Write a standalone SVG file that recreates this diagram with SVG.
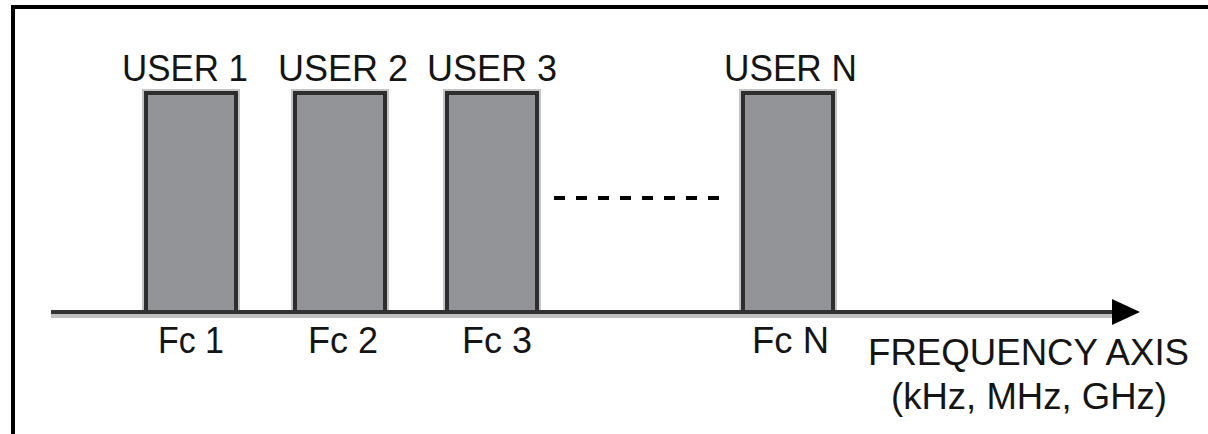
<svg xmlns="http://www.w3.org/2000/svg" width="1208" height="434" viewBox="0 0 1208 434">
  <style>
    .lbl { font-family: "Liberation Sans", Arial, sans-serif; font-size: 36px; fill: #151515; }
    .band { fill: #939498; stroke: #2e2e2e; stroke-width: 4; }
    .halo { fill: none; stroke: #c4c4c4; stroke-width: 8; }
  </style>
  <defs>
    <marker id="arrowHead" markerWidth="28" markerHeight="26" refX="0" refY="13" orient="auto" markerUnits="userSpaceOnUse">
      <polygon points="0,0 28,13 0,26" fill="#000"/>
    </marker>
  </defs>

  <rect width="1208" height="434" fill="#fff"/>

  <!-- frame (top and left edges) -->
  <g id="frame">
    <rect x="11" y="5" width="1197" height="4" fill="#000"/>
    <rect x="11" y="5" width="4" height="429" fill="#000"/>
  </g>

  <!-- channel bands -->
  <g id="user1">
    <rect class="halo" x="146" y="93" width="90" height="219"/>
    <rect class="band" x="146" y="93" width="90" height="219"/>
    <text class="lbl" x="122" y="81" textLength="126" lengthAdjust="spacingAndGlyphs">USER 1</text>
    <text class="lbl" x="158" y="353" textLength="66" lengthAdjust="spacingAndGlyphs">Fc 1</text>
  </g>
  <g id="user2">
    <rect class="halo" x="295" y="93" width="90" height="219"/>
    <rect class="band" x="295" y="93" width="90" height="219"/>
    <text class="lbl" x="278" y="81" textLength="130" lengthAdjust="spacingAndGlyphs">USER 2</text>
    <text class="lbl" x="308" y="353" textLength="70" lengthAdjust="spacingAndGlyphs">Fc 2</text>
  </g>
  <g id="user3">
    <rect class="halo" x="447" y="93" width="90" height="219"/>
    <rect class="band" x="447" y="93" width="90" height="219"/>
    <text class="lbl" x="427" y="81" textLength="130" lengthAdjust="spacingAndGlyphs">USER 3</text>
    <text class="lbl" x="462" y="353" textLength="70" lengthAdjust="spacingAndGlyphs">Fc 3</text>
  </g>
  <g id="userN">
    <rect class="halo" x="743" y="93" width="90" height="219"/>
    <rect class="band" x="743" y="93" width="90" height="219"/>
    <text class="lbl" x="724" y="81" textLength="133" lengthAdjust="spacingAndGlyphs">USER N</text>
    <text class="lbl" x="752" y="353" textLength="77" lengthAdjust="spacingAndGlyphs">Fc N</text>
  </g>

  <!-- axis label -->
  <g id="axisLabel">
    <text class="lbl" x="868" y="365" textLength="321" lengthAdjust="spacingAndGlyphs">FREQUENCY AXIS</text>
    <text class="lbl" x="891" y="409" textLength="276" lengthAdjust="spacingAndGlyphs">(kHz, MHz, GHz)</text>
  </g>

  <!-- connectors: frequency axis and the ellipsis between channels -->
  <g id="connectors">
    <line x1="51" y1="316" x2="1112" y2="316" stroke="#c0c0c0" stroke-width="4"/>
    <line x1="51" y1="312" x2="1112" y2="312" stroke="#333" stroke-width="4" marker-end="url(#arrowHead)"/>
    <line x1="554" y1="198" x2="720" y2="198" stroke="#000" stroke-width="4" stroke-dasharray="11 11"/>
  </g>
</svg>
